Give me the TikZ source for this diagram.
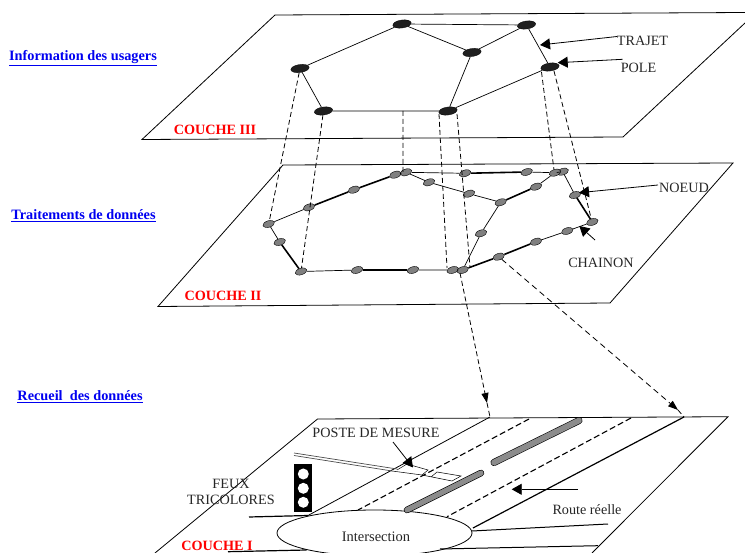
\documentclass[tikz,border=0pt]{standalone}
\usepackage{fontspec}
\setmainfont{Liberation Serif}
\usetikzlibrary{arrows.meta,shapes.geometric}
\definecolor{lnk}{RGB}{0,0,240}
\tikzset{
 plane/.style={draw=black,line width=.8pt},
 pole/.style={ellipse,fill=black!88,draw=black,line width=.3pt,minimum width=18.5pt,minimum height=8pt,inner sep=0pt,rotate=8},
 nd/.style={ellipse,fill=black!50,draw=black,line width=.4pt,minimum width=12pt,minimum height=6.5pt,inner sep=0pt,rotate=18},
 thin edge/.style={line width=.7pt},
 thick edge/.style={line width=1.6pt},
 link/.style={line width=.8pt,dash pattern=on 5pt off 3pt},
 lbl/.style={font=\fontsize{14.2}{15.5}\selectfont,text=black!85,inner sep=0pt,align=center},
 layer/.style={font=\fontsize{14.2}{16}\selectfont\bfseries,text=red,inner sep=0pt},
 head/.style={font=\fontsize{14.3}{16}\selectfont\bfseries,text=lnk,inner sep=0pt},
 tip/.style={-{Triangle[length=10pt,width=11pt]},line width=.8pt},
 small tip/.style={-{Triangle[length=10pt,width=7pt]},line width=.8pt},
}
\begin{document}
\begin{tikzpicture}[x=1pt,y=-1pt]
\useasboundingbox (0,0) rectangle (745,553);
\clip (0,0) rectangle (745,553);
% planes
\draw[plane] (275,15) -- (745,12.5);
\draw[plane] (745,23) -- (623,137) -- (142,139.5) -- (275,15);
\draw[plane] (283,165) -- (733,163) -- (610,303) -- (158,306.5) -- cycle;
\draw[plane] (155,553) -- (317.5,419) -- (728,416.7) -- (592,553);
% top nodes
\node[pole] (a) at (402,24) {};
\node[pole] (b) at (526.5,25) {};
\node[pole] (c) at (472,52.5) {};
\node[pole] (d) at (550,67) {};
\node[pole] (e) at (448,111) {};
\node[pole] (f) at (323.5,111) {};
\node[pole] (g) at (300,68.5) {};
\draw[thin edge] (a)--(b) (a)--(c) (c)--(b) (c)--(e) (b)--(d) (d)--(e) (e)--(f) (f)--(g) (g)--(a);
% middle nodes
\foreach \n/\x/\y in {m1/268.7/224,m2/279.7/242,m3/301/271.5,m4/357/270,m5/413/270,m6/452.7/270,m7/462.7/270,m8/498.7/256.7,m9/536/241.7,m10/567.3/231,m11/592.3/222,m12/575/195,m13/562.7/171.7,m14/555/172.7,m15/526.7/172,m16/465/173.3,m17/469/193.7,m18/500.7/202.3,m19/536/186.7,m20/481/233.3,m21/309/207.3,m22/354/189.7,m23/395.3/174.7,m24/406/172.3,m25/429/182.3}
  \node[nd] (\n) at (\x,\y) {};
\draw[thin edge] (m1)--(m21) (m1)--(m2) (m3)--(m4) (m5)--(m6) (m6)--(m7) (m9)--(m10) (m10)--(m11) (m12)--(m13) (m13)--(m14) (m14)--(m19) (m18)--(m17) (m17)--(m25) (m25)--(m24) (m24)--(m16) (m15)--(m14) (m18)--(m20) (m20)--(m7) (m23)--(m24);
\draw[thick edge] (m21)--(m22) (m22)--(m23) (m2)--(m3) (m4)--(m5) (m7)--(m8) (m8)--(m9) (m11)--(m12) (m19)--(m18) (m16)--(m15);
% dashed links top-middle
\coordinate (e1) at (439,114); \coordinate (e2) at (457,114);
\coordinate (d1) at (541.5,72); \coordinate (d2) at (554,71);
\coordinate (h1) at (403,111);
\draw[link] (g)--(m1) (f)--(m3) (h1)--(403,172) (e1)--(447,268) (e2)--(470,267) (d1)--(m14.north) (d2)--(m11.north);
% layer I
\coordinate (r1) at (490,417); \coordinate (r2) at (684,417);
\coordinate (r3) at (308,515.5); \coordinate (r4) at (473,528);
\node[ellipse,draw=black,line width=.8pt,minimum width=195pt,minimum height=46pt,inner sep=0pt] (int) at (374.5,533) {};
\node[lbl,font=\fontsize{14.5}{16}\selectfont] (intl) at (376,537) {Intersection};
\draw[line width=.8pt] (r1)--(r3);
\draw[line width=1.2pt] (r2)--(r4);
\draw[line width=1.2pt] (249,517) -- (r3);
\draw[line width=1.2pt] (228,551.7) -- (306.7,550);
\draw[line width=1pt] (472,531) -- (608,524);
\draw[line width=1pt] (440,549) -- (598,545.7);
\draw[line width=1.1pt,dash pattern=on 6pt off 3pt] (529,419)--(358,510);
\draw[line width=1.1pt,dash pattern=on 6pt off 3pt] (631,418)--(447,516.7);
% gray bars
\draw[line cap=round,line width=7pt,draw=black] (579,420.5)--(494,462.5);
\draw[line cap=round,line width=5.8pt,draw=black!45] (579,420.5)--(494,462.5);
\draw[line cap=round,line width=6.5pt,draw=black] (481,473)--(407,510);
\draw[line cap=round,line width=5.3pt,draw=black!45] (481,473)--(407,510);
% measurement post
\draw[line width=.7pt,draw=black!70] (294,453) -- (397,469) (294,455.5) -- (392,471);
\draw[line width=.5pt] (397,470) -- (407,464) -- (428,470) -- (422,475) -- (392,471);
\draw[line width=.5pt] (422,475) -- (452,481) -- (461,476) -- (437,472) -- (431,477);
% traffic light
\node[fill=black,minimum width=18pt,minimum height=47.5pt,inner sep=0pt] (tl) at (303.3,488) {};
\foreach \y in {474,488.3,502.3} \fill[white] (303.3,\y) circle (5.5pt);
% labels
\node[lbl] (trajet) at (642.5,41) {TRAJET};
\node[lbl] (polel) at (638.5,67.5) {POLE};
\node[lbl,anchor=west] (noeud) at (659,188) {NOEUD};
\node[lbl] (chainon) at (601,263) {CHAINON};
\node[lbl] (route) at (587,510) {Route réelle};
\node[lbl] (poste) at (376,433) {POSTE DE MESURE};
\node[lbl] (feux) at (231,492) {FEUX\\TRICOLORES};
\node[layer] (c3) at (215,129.5) {COUCHE III};
\node[layer] (c2) at (223,295.5) {COUCHE II};
\node[layer] (c1) at (217,545.5) {COUCHE I};
\node[head] (h3) at (83,58) {\underline{Information des usagers}};
\node[head] (h2) at (83.5,216) {\underline{Traitements de données}};
\node[head] (h1l) at (80,397) {\underline{Recueil\ \ des données}};
% arrows
\coordinate (t1) at (540,45); \coordinate (t2) at (557.7,62.7); \coordinate (t3) at (579,192.7); \coordinate (t4) at (579.3,226); \coordinate (t5) at (511.7,489.3); \coordinate (t6) at (413,467.5);
\draw[tip] (617,36.5) -- (t1);
\draw[tip] (622.7,59.3) -- (t2);
\draw[tip] (658,185) -- (t3);
\draw[tip] (595,240) -- (t4);
\draw[tip] (578,489.3) -- (t5);
\draw[tip] (393,442) -- (t6);
\coordinate (a1) at (487,403); \coordinate (a2) at (678,410);
\draw[link,small tip] (460,273) -- (a1);
\draw[link] (a1) -- (r1);
\draw[link,small tip,dash pattern=on 6pt off 4pt] (m8) -- (a2);
\draw[link] (a2) -- (r2);
\end{tikzpicture}
\end{document}
